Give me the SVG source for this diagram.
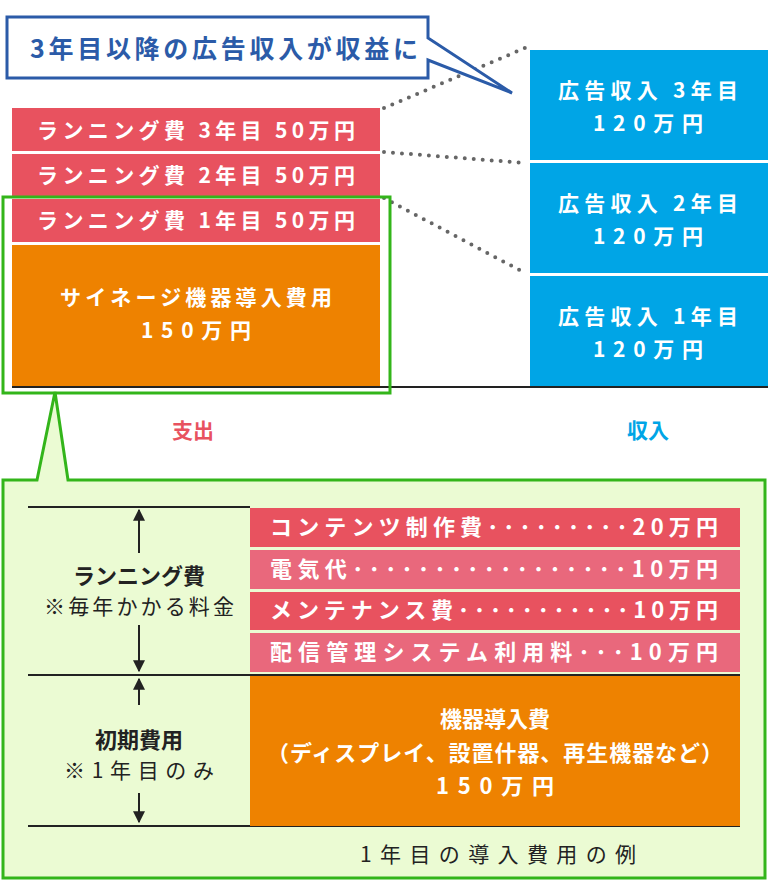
<svg xmlns="http://www.w3.org/2000/svg" width="768" height="882" viewBox="0 0 768 882">
<style>
text{font-family:"Noto Sans CJK JP","Noto Sans",sans-serif;}
.w{fill:#fff;font-size:21px;font-weight:bold;text-anchor:middle}
.wb{fill:#fff;font-size:22px;font-weight:bold;text-anchor:middle}
.wl{fill:#fff;font-size:22px;font-weight:bold}
.red{fill:#e8525f}.pink{fill:#e9687c}.or{fill:#ee8200}.bl{fill:#00a5e6}
.dot{stroke:#666;stroke-width:4;stroke-linecap:round;stroke-dasharray:0 9;fill:none}
.ln{stroke:#222;stroke-width:2}
.ar{stroke:#222;stroke-width:2;marker-end:url(#ah)}
.k{fill:#222;text-anchor:middle}
</style>
<defs><marker id="ah" viewBox="0 0 10 10" refX="9" refY="5" markerWidth="6" markerHeight="6" orient="auto"><path d="M0,0L10,5L0,10z" fill="#222"/></marker></defs>
<rect width="768" height="882" fill="#fff"/>
<g id="connectors">
<path class="dot" d="M384,108L525,48M384,152L525,163M384,198L525,273"/>
</g>
<g id="callout">
<path d="M7,17H428V38L512,93L428,60V78H7Z" fill="#fff" stroke="#2b5ba8" stroke-width="3"/>
<text x="30" y="58" font-size="25" font-weight="bold" fill="#2b5ba8" textLength="388" lengthAdjust="spacing">3年目以降の広告収入が収益に</text>
</g>
<g id="expenses">
<rect class="red" x="12" y="108" width="368" height="43"/><text class="w" x="196" y="138" textLength="318" lengthAdjust="spacing">ランニング費 3年目 50万円</text>
<rect class="red" x="12" y="154" width="368" height="42"/><text class="w" x="196" y="183" textLength="318" lengthAdjust="spacing">ランニング費 2年目 50万円</text>
<rect class="red" x="12" y="199" width="368" height="43"/><text class="w" x="196" y="228" textLength="318" lengthAdjust="spacing">ランニング費 1年目 50万円</text>
<rect class="or" x="12" y="245" width="368" height="141"/><text class="w" x="196" y="305" textLength="272" lengthAdjust="spacing">サイネージ機器導入費用</text><text class="w" x="196" y="338" textLength="110" lengthAdjust="spacing">150万円</text>
</g>
<g id="income">
<rect class="bl" x="530" y="50" width="238" height="110"/><text class="w" x="648" y="98" textLength="180" lengthAdjust="spacing">広告収入 3年目</text><text class="w" x="648" y="131" textLength="110" lengthAdjust="spacing">120万円</text>
<rect class="bl" x="530" y="163" width="238" height="110"/><text class="w" x="648" y="211" textLength="180" lengthAdjust="spacing">広告収入 2年目</text><text class="w" x="648" y="244" textLength="110" lengthAdjust="spacing">120万円</text>
<rect class="bl" x="530" y="276" width="238" height="110"/><text class="w" x="648" y="324" textLength="180" lengthAdjust="spacing">広告収入 1年目</text><text class="w" x="648" y="357" textLength="110" lengthAdjust="spacing">120万円</text>
</g>
<line x1="12" y1="387" x2="768" y2="387" stroke="#222" stroke-width="2"/>
<rect x="3" y="197" width="387" height="196" fill="none" stroke="#33b51a" stroke-width="3"/>
<text x="193" y="438" font-size="21" font-weight="bold" fill="#e8525f" text-anchor="middle">支出</text>
<text x="648" y="438" font-size="21" font-weight="bold" fill="#00a5e6" text-anchor="middle">収入</text>
<g id="detail">
<path d="M3,480H37L55,392L68,480H765V878H3Z" fill="#ebfbd3" stroke="#33b51a" stroke-width="3"/>
<path class="ln" d="M28,507H250M28,675H740M28,826H740"/>
<rect class="red" x="250" y="508" width="490" height="39"/><text class="wl" x="270" y="535" textLength="448" lengthAdjust="spacing">コンテンツ制作費･････････20万円</text>
<rect class="pink" x="250" y="550" width="490" height="39"/><text class="wl" x="270" y="577" textLength="448" lengthAdjust="spacing">電気代･････････････････10万円</text>
<rect class="red" x="250" y="592" width="490" height="38"/><text class="wl" x="270" y="618" textLength="448" lengthAdjust="spacing">メンテナンス費･･･････････10万円</text>
<rect class="pink" x="250" y="633" width="490" height="39"/><text class="wl" x="270" y="660" textLength="448" lengthAdjust="spacing">配信管理システム利用料･･･10万円</text>
<rect class="or" x="250" y="676" width="490" height="150"/>
<text class="wb" x="495" y="727">機器導入費</text>
<text class="wb" x="495" y="761" textLength="456" lengthAdjust="spacing">（ディスプレイ、設置什器、再生機器など）</text>
<text class="wb" x="495" y="794" textLength="118" lengthAdjust="spacing">150万円</text>
<line class="ar" x1="139" y1="553" x2="139" y2="510"/>
<line class="ar" x1="139" y1="625" x2="139" y2="671"/>
<line class="ar" x1="139" y1="705" x2="139" y2="679"/>
<line class="ar" x1="139" y1="793" x2="139" y2="822"/>
<text class="k" x="139" y="584" font-size="22" font-weight="bold">ランニング費</text>
<text class="k" x="139" y="614" font-size="21" textLength="190" lengthAdjust="spacing">※毎年かかる料金</text>
<text class="k" x="139" y="748" font-size="22" font-weight="bold">初期費用</text>
<text class="k" x="139" y="778" font-size="21" textLength="150" lengthAdjust="spacing">※1年目のみ</text>
<text class="k" x="498" y="862" font-size="21" textLength="276" lengthAdjust="spacing">1年目の導入費用の例</text>
</g>
</svg>
